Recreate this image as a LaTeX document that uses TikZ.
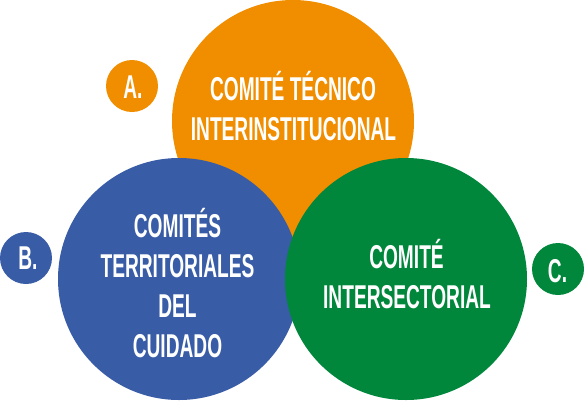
\documentclass[tikz,border=0pt]{standalone}
\usepackage{fontspec}
\newfontfamily\condfont[FakeStretch=0.58]{Liberation Sans}
\definecolor{corange}{HTML}{F18E00}
\definecolor{cblue}{HTML}{395CA6}
\definecolor{cgreen}{HTML}{00873B}
\begin{document}
\begin{tikzpicture}[x=1pt,y=-1pt,
  bigc/.style={circle, minimum size=242pt, inner sep=0pt, draw=none},
  smallc/.style={circle, minimum size=52pt, inner sep=0pt, draw=none},
  txt/.style={text=white, font=\condfont\bfseries\fontsize{33}{39}\selectfont, anchor=base, inner sep=0pt}]
\useasboundingbox (0,0) rectangle (584,400);
\node[bigc, fill=corange] (orange) at (293,121) {};
\node[bigc, fill=cblue] (blue) at (179,279) {};
\node[bigc, fill=cgreen] (green) at (406,279) {};
\node[smallc, fill=corange] (sa) at (132,86) {};
\node[smallc, fill=cblue] (sb) at (26,258) {};
\node[smallc, fill=cgreen] (sc) at (558,269) {};
\node[txt] (la) at (133,98) {A.};
\node[txt] (lb) at (28,269) {B.};
\node[txt] (lc) at (557.5,282) {C.};
\node[txt] (o1) at (293,100) {COMITÉ TÉCNICO};
\node[txt] (o2) at (293.5,140) {INTERINSTITUCIONAL};
\node[txt] (b1) at (177.5,237) {COMITÉS};
\node[txt] (b2) at (177.5,277) {TERRITORIALES};
\node[txt] (b3) at (177.5,317) {DEL};
\node[txt] (b4) at (177.5,357) {CUIDADO};
\node[txt] (g1) at (406.5,268) {COMITÉ};
\node[txt] (g2) at (407,308) {INTERSECTORIAL};
\end{tikzpicture}
\end{document}
